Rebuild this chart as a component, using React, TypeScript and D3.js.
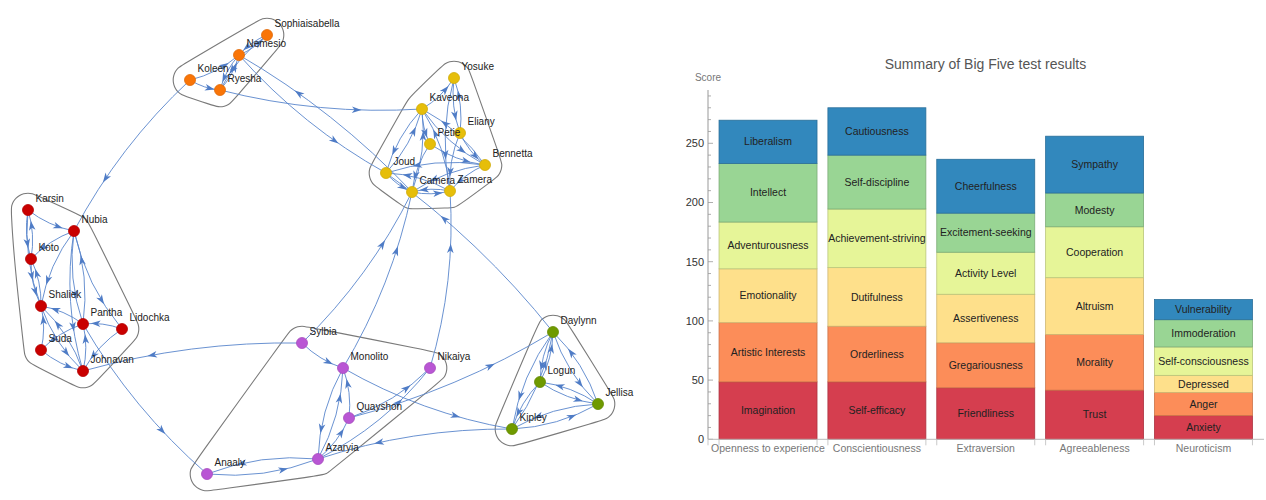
import React from 'react';
import * as d3 from 'd3';

const W = 1266;
const H = 500;
const FONT = '"Liberation Sans", Arial, Helvetica, sans-serif';

// ---------- network data (layout units) ----------
const clusterColors = ['#c90000', '#f97508', '#e6be0a', '#b956d4', '#6f9a00'];

const nodeNames = [
  'Sophiaisabella', 'Nemesio', 'Koleen', 'Ryesha',
  'Yosuke', 'Kaveona', 'Eliany', 'Petie', 'Bennetta', 'Joud', 'Camera', 'Zamera',
  'Karsin', 'Nubia', 'Koto', 'Shaliek', 'Pantha', 'Lidochka', 'Suda', 'Johnavan',
  'Sylbia', 'Anaaly', 'Azaryia', 'Monolito', 'Nikaiya', 'Quayshon',
  'Daylynn', 'Logun', 'Jellisa', 'Kipley',
];
const nodeCluster = [1, 1, 1, 1, 2, 2, 2, 2, 2, 2, 2, 2, 0, 0, 0, 0, 0, 0, 0, 0, 3, 3, 3, 3, 3, 3, 4, 4, 4, 4];
const nodeX = [26.7, 23.9, 19.0, 22.0, 45.4, 42.2, 46.0, 43.0, 48.5, 38.6, 41.2, 45.0, 2.8, 7.4, 3.1, 4.1, 8.3, 12.2, 4.1, 8.3, 30.2, 20.7, 31.8, 34.3, 43.0, 34.9, 55.3, 54.0, 59.8, 51.2];
const nodeY = [3.5, 5.5, 8.0, 9.0, 7.8, 10.9, 13.3, 14.4, 16.5, 17.3, 19.2, 19.1, 21.0, 23.1, 25.9, 30.6, 32.4, 32.9, 35.0, 37.1, 34.3, 47.4, 45.9, 36.8, 36.8, 41.8, 33.2, 38.2, 40.4, 42.9];

const edges: [string, string][] = [
  // orange
  ['Koleen', 'Nemesio'], ['Koleen', 'Ryesha'], ['Ryesha', 'Nemesio'], ['Nemesio', 'Ryesha'],
  ['Nemesio', 'Sophiaisabella'], ['Sophiaisabella', 'Ryesha'], ['Sophiaisabella', 'Nemesio'],
  // red
  ['Karsin', 'Nubia'], ['Karsin', 'Shaliek'], ['Koto', 'Karsin'], ['Karsin', 'Koto'],
  ['Nubia', 'Koto'], ['Nubia', 'Shaliek'], ['Nubia', 'Pantha'], ['Nubia', 'Lidochka'],
  ['Nubia', 'Johnavan'], ['Pantha', 'Nubia'], ['Shaliek', 'Koto'], ['Koto', 'Shaliek'],
  ['Pantha', 'Shaliek'], ['Lidochka', 'Pantha'], ['Lidochka', 'Johnavan'], ['Suda', 'Shaliek'],
  ['Suda', 'Johnavan'], ['Pantha', 'Suda'], ['Shaliek', 'Johnavan'], ['Johnavan', 'Pantha'],
  ['Johnavan', 'Shaliek'],
  // yellow
  ['Kaveona', 'Yosuke'], ['Yosuke', 'Eliany'], ['Eliany', 'Yosuke'], ['Yosuke', 'Zamera'],
  ['Zamera', 'Kaveona'], ['Kaveona', 'Joud'], ['Joud', 'Kaveona'], ['Kaveona', 'Bennetta'],
  ['Bennetta', 'Kaveona'], ['Petie', 'Camera'], ['Kaveona', 'Petie'], ['Eliany', 'Bennetta'],
  ['Eliany', 'Zamera'], ['Bennetta', 'Camera'], ['Bennetta', 'Joud'], ['Joud', 'Camera'],
  ['Camera', 'Zamera'], ['Zamera', 'Camera'], ['Zamera', 'Joud'], ['Bennetta', 'Zamera'],
  ['Petie', 'Bennetta'], ['Camera', 'Kaveona'],
  // purple
  ['Sylbia', 'Monolito'], ['Anaaly', 'Azaryia'], ['Azaryia', 'Anaaly'], ['Azaryia', 'Monolito'],
  ['Monolito', 'Azaryia'], ['Quayshon', 'Monolito'], ['Quayshon', 'Nikaiya'], ['Azaryia', 'Nikaiya'],
  ['Azaryia', 'Quayshon'],
  // green
  ['Daylynn', 'Jellisa'], ['Jellisa', 'Daylynn'], ['Logun', 'Daylynn'], ['Daylynn', 'Logun'],
  ['Logun', 'Jellisa'], ['Jellisa', 'Logun'], ['Kipley', 'Jellisa'], ['Jellisa', 'Kipley'],
  ['Kipley', 'Daylynn'], ['Daylynn', 'Kipley'], ['Logun', 'Kipley'],
  // between communities
  ['Koleen', 'Nubia'], ['Nemesio', 'Joud'], ['Ryesha', 'Kaveona'], ['Camera', 'Nemesio'],
  ['Daylynn', 'Joud'], ['Monolito', 'Camera'], ['Sylbia', 'Camera'], ['Nikaiya', 'Zamera'],
  ['Pantha', 'Anaaly'], ['Sylbia', 'Johnavan'], ['Monolito', 'Kipley'], ['Quayshon', 'Daylynn'],
  ['Kipley', 'Azaryia'],
];

// ---------- bar chart data ----------
const traits = ['Openness to experience', 'Conscientiousness', 'Extraversion', 'Agreeableness', 'Neuroticism'];

const opennessFacets = ['Imagination', 'Artistic Interests', 'Emotionality', 'Adventurousness', 'Intellect', 'Liberalism'];
const opennessScores = [48.5, 50, 45.5, 39.5, 49.5, 36.5];
const conscientiousnessFacets = ['Self-efficacy', 'Orderliness', 'Dutifulness', 'Achievement-striving', 'Self-discipline', 'Cautiousness'];
const conscientiousnessScores = [48.5, 47, 49.5, 49.5, 45.5, 40];
const extraversionFacets = ['Friendliness', 'Gregariousness', 'Assertiveness', 'Activity Level', 'Excitement-seeking', 'Cheerfulness'];
const extraversionScores = [43.5, 38, 41, 35.5, 33, 45.5];
const agreeablenessFacets = ['Trust', 'Morality', 'Altruism', 'Cooperation', 'Modesty', 'Sympathy'];
const agreeablenessScores = [41.5, 47, 48, 43, 28.5, 48];
const neuroticismFacets = ['Anxiety', 'Anger', 'Depressed', 'Self-consciousness', 'Immoderation', 'Vulnerability'];
const neuroticismScores = [20, 19.5, 14.5, 24, 23, 17];

const facetNames = [opennessFacets, conscientiousnessFacets, extraversionFacets, agreeablenessFacets, neuroticismFacets];
const facetScores = [opennessScores, conscientiousnessScores, extraversionScores, agreeablenessScores, neuroticismScores];

const yTicks = [0, 50, 100, 150, 200, 250];

function NetworkPanel() {
  const gx = d3.scaleLinear().domain([0, 64]).range([0, 640]);
  const gy = d3.scaleLinear().domain([0, 50]).range([0, 500]);

  const nodes = nodeNames.map((name, i) => ({ name, c: nodeCluster[i], x: gx(nodeX[i]), y: gy(nodeY[i]) }));
  const byName = new Map(nodes.map((n) => [n.name, n]));

  // rounded outline around each community
  const pad = 17;
  const hulls = clusterColors.map((_, c) => {
    const ring: [number, number][] = [];
    nodes.filter((n) => n.c === c).forEach((n) => {
      for (let k = 0; k < 24; k++) {
        const a = (k / 24) * Math.PI * 2;
        ring.push([n.x + pad * Math.cos(a), n.y + pad * Math.sin(a)]);
      }
    });
    const hull = d3.polygonHull(ring) || ring;
    return d3.line().curve(d3.curveBasisClosed)(hull) || '';
  });

  const t = 0.68;
  const edgeShapes = edges.map(([f, to], i) => {
    const a = byName.get(f)!;
    const b = byName.get(to)!;
    const dx = b.x - a.x;
    const dy = b.y - a.y;
    const len = Math.hypot(dx, dy);
    const off = Math.min(len * 0.12, 16);
    const cx = (a.x + b.x) / 2 + (-dy / len) * off;
    const cy = (a.y + b.y) / 2 + (dx / len) * off;
    const path = d3.path();
    path.moveTo(a.x, a.y);
    path.quadraticCurveTo(cx, cy, b.x, b.y);
    const px = (1 - t) * (1 - t) * a.x + 2 * (1 - t) * t * cx + t * t * b.x;
    const py = (1 - t) * (1 - t) * a.y + 2 * (1 - t) * t * cy + t * t * b.y;
    let tx = 2 * (1 - t) * (cx - a.x) + 2 * t * (b.x - cx);
    let ty = 2 * (1 - t) * (cy - a.y) + 2 * t * (b.y - cy);
    const tl = Math.hypot(tx, ty);
    tx /= tl;
    ty /= tl;
    const L = 4.8;
    const hw = 3.3;
    const tip = [px + tx * L, py + ty * L];
    const back = [px - tx * L, py - ty * L];
    const notch = [px - tx * (L - 2.6), py - ty * (L - 2.6)];
    const arrow = `M${tip[0]},${tip[1]}L${back[0] - ty * hw},${back[1] + tx * hw}L${notch[0]},${notch[1]}L${back[0] + ty * hw},${back[1] - tx * hw}Z`;
    return { key: i, d: path.toString(), arrow };
  });

  return (
    <g>
      {hulls.map((d, i) => (
        <path key={i} d={d} fill="none" stroke="#7a7a7a" strokeWidth={1.1} />
      ))}
      {edgeShapes.map((e) => (
        <path key={e.key} d={e.d} fill="none" stroke="#5a86cc" strokeWidth={1} strokeOpacity={0.9} />
      ))}
      {edgeShapes.map((e) => (
        <path key={'a' + e.key} d={e.arrow} fill="#4f7cc6" />
      ))}
      {nodes.map((n) => (
        <circle key={n.name} cx={n.x} cy={n.y} r={5.5} fill={clusterColors[n.c]}
          stroke={d3.color(clusterColors[n.c])!.darker(0.3).toString()} strokeWidth={0.8} />
      ))}
      {nodes.map((n) => (
        <text key={'t' + n.name} x={n.x + 7.5} y={n.y - 8.4} fontSize={10} fill="#222" fontFamily={FONT}>
          {n.name}
        </text>
      ))}
    </g>
  );
}

function BarPanel() {
  const colors = d3.schemeSpectral[6];
  const x = d3.scaleBand().domain(traits).range([713.6, 1257.9]).paddingInner(0.1).paddingOuter(0.05);
  const y = d3.scaleLinear().domain([0, 250]).range([439.3, 143.3]);
  const axisX = 708;
  const y0 = y(0);

  const keys = d3.range(6).map((k) => 'f' + k);
  const table = traits.map((tr, i) => {
    const row: Record<string, number | string> = { trait: tr };
    facetScores[i].forEach((v, k) => (row['f' + k] = v));
    return row;
  });
  const series = d3.stack<Record<string, number | string>>().keys(keys)(table as any);

  const minor = d3.range(0, 300, 10);
  const edgesX: number[] = [];
  traits.forEach((tr) => {
    edgesX.push(x(tr)!, x(tr)! + x.bandwidth());
  });

  return (
    <g fontFamily={FONT}>
      <text x={985.5} y={69} textAnchor="middle" fontSize={14} fill="#555">
        Summary of Big Five test results
      </text>
      <text x={708} y={81} textAnchor="middle" fontSize={10} fill="#777">Score</text>

      {series.map((s, k) =>
        s.map((d, i) => {
          const tr = traits[i];
          const top = y(d[1]);
          const bot = y(d[0]);
          return (
            <g key={k + '-' + i}>
              <rect x={x(tr)} y={top} width={x.bandwidth()} height={bot - top} fill={colors[k]}
                stroke={d3.color(colors[k])!.darker(0.6).toString()} strokeWidth={0.8} />
              <text x={x(tr)! + x.bandwidth() / 2} y={(top + bot) / 2} dy="0.35em" textAnchor="middle"
                fontSize={10.5} fill="#222">
                {facetNames[i][k]}
              </text>
            </g>
          );
        })
      )}

      {/* y axis */}
      <line x1={axisX} x2={axisX} y1={y0} y2={y(295)} stroke="#999" strokeWidth={1} />
      {minor.map((v) => (
        <line key={'m' + v} x1={axisX} x2={axisX + (v % 50 === 0 ? 5 : 3)} y1={y(v)} y2={y(v)} stroke="#999" strokeWidth={0.8} />
      ))}
      {yTicks.map((v) => (
        <text key={'yt' + v} x={704} y={y(v)} dy="0.35em" textAnchor="end" fontSize={11} fill="#333">{v}</text>
      ))}

      {/* x axis */}
      <line x1={axisX} x2={1264} y1={y0} y2={y0} stroke="#bbb" strokeWidth={1} />
      {[axisX, ...edgesX].map((v, i) => (
        <line key={'xt' + i} x1={v} x2={v} y1={y0} y2={y0 + 6} stroke="#bbb" strokeWidth={0.8} />
      ))}
      {traits.map((tr) => (
        <text key={tr} x={x(tr)! + x.bandwidth() / 2} y={452} textAnchor="middle" fontSize={10.5} fill="#777">
          {tr}
        </text>
      ))}
    </g>
  );
}

export default function App() {
  return (
    <svg width={W} height={H} viewBox={`0 0 ${W} ${H}`} style={{ position: 'absolute', left: 0, top: 0, background: '#fff' }}>
      <rect width={W} height={H} fill="#fff" />
      <NetworkPanel />
      <BarPanel />
    </svg>
  );
}
